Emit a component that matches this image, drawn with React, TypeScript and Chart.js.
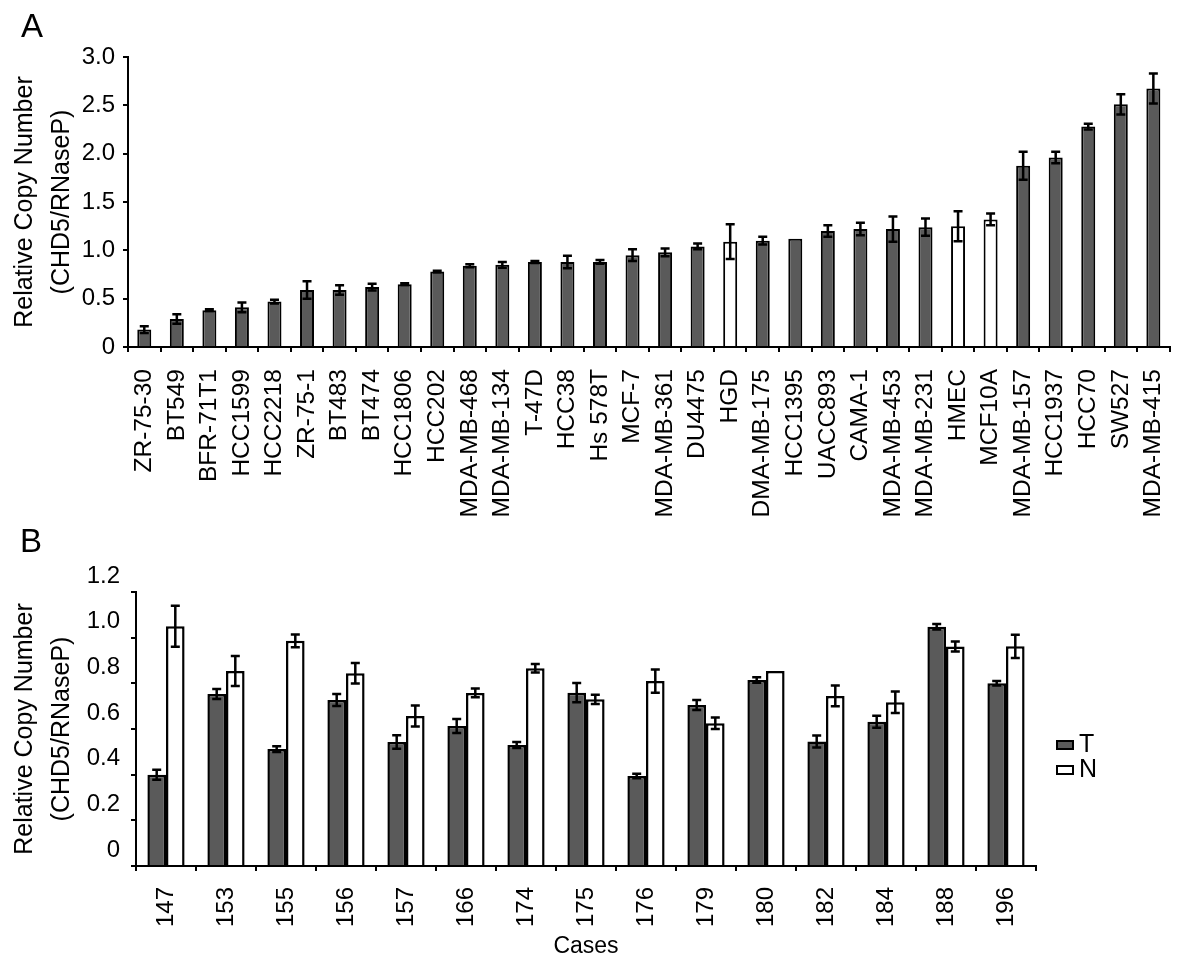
import React, { useEffect, useRef } from "react";
import { Chart, registerables } from "chart.js";

Chart.register(...registerables);

const FONT = "'Liberation Sans', Arial, Helvetica, sans-serif";

// ---- Panel A data ----
const cellLines = [
  "ZR-75-30", "BT549", "BFR-71T1", "HCC1599", "HCC2218", "ZR-75-1", "BT483", "BT474",
  "HCC1806", "HCC202", "MDA-MB-468", "MDA-MB-134", "T-47D", "HCC38", "Hs 578T", "MCF-7",
  "MDA-MB-361", "DU4475", "HGD", "DMA-MB-175", "HCC1395", "UACC893", "CAMA-1", "MDA-MB-453",
  "MDA-MB-231", "HMEC", "MCF10A", "MDA-MB-157", "HCC1937", "HCC70", "SW527", "MDA-MB-415",
];
const cellValues = [
  0.18, 0.29, 0.38, 0.41, 0.47, 0.59, 0.59, 0.62,
  0.65, 0.78, 0.84, 0.85, 0.88, 0.88, 0.88, 0.95,
  0.98, 1.04, 1.09, 1.10, 1.12, 1.20, 1.22, 1.22,
  1.24, 1.25, 1.32, 1.875, 1.96, 2.28, 2.51, 2.675,
];
const cellErrors = [
  0.035, 0.05, 0.01, 0.05, 0.02, 0.09, 0.05, 0.035,
  0.01, 0.01, 0.015, 0.03, 0.01, 0.065, 0.02, 0.06,
  0.04, 0.03, 0.18, 0.04, 0, 0.06, 0.065, 0.13,
  0.09, 0.155, 0.06, 0.145, 0.06, 0.03, 0.105, 0.155,
];
const normalCellLines = ["HGD", "HMEC", "MCF10A"];

// ---- Panel B data ----
const cases = ["147", "153", "155", "156", "157", "166", "174", "175", "176", "179", "180", "182", "184", "188", "196"];
const tumorValues = [0.40, 0.753, 0.512, 0.727, 0.543, 0.613, 0.530, 0.759, 0.394, 0.705, 0.815, 0.545, 0.632, 1.048, 0.80];
const tumorErrors = [0.022, 0.022, 0.013, 0.026, 0.03, 0.031, 0.013, 0.042, 0.01, 0.022, 0.012, 0.026, 0.026, 0.012, 0.01];
const normalValues = [1.05, 0.854, 0.986, 0.844, 0.657, 0.758, 0.866, 0.730, 0.810, 0.625, 0.854, 0.745, 0.717, 0.961, 0.962];
const normalErrors = [0.09, 0.066, 0.028, 0.045, 0.046, 0.019, 0.019, 0.02, 0.051, 0.025, 0, 0.045, 0.047, 0.022, 0.051];

const DARK = "#5a5a5a";
const WHITE = "#ffffff";

const errorBarPlugin = {
  id: "errorBars",
  afterDatasetsDraw(chart: any) {
    const { ctx } = chart;
    const yScale = chart.scales.y;
    ctx.save();
    ctx.strokeStyle = "#000";
    ctx.lineWidth = 2.5;
    chart.data.datasets.forEach((ds: any, di: number) => {
      const meta = chart.getDatasetMeta(di);
      meta.data.forEach((bar: any, j: number) => {
        const v = ds.data[j];
        const e = ds.errors ? ds.errors[j] : 0;
        if (!e) return;
        const x = bar.x;
        const yTop = yScale.getPixelForValue(v + e);
        const yBot = yScale.getPixelForValue(v - e);
        const cap = 4.5;
        ctx.beginPath();
        ctx.moveTo(x, yTop);
        ctx.lineTo(x, yBot);
        ctx.moveTo(x - cap, yTop);
        ctx.lineTo(x + cap, yTop);
        ctx.moveTo(x - cap, yBot);
        ctx.lineTo(x + cap, yBot);
        ctx.stroke();
      });
    });
    ctx.restore();
  },
};

const sideLegendPlugin = {
  id: "sideLegend",
  afterDraw(chart: any) {
    const { ctx, chartArea } = chart;
    const x = chartArea.right + 21;
    let y = chartArea.top + 153;
    ctx.save();
    chart.data.datasets.forEach((ds: any) => {
      ctx.fillStyle = ds.backgroundColor;
      ctx.fillRect(x, y - 4, 16, 8);
      ctx.strokeStyle = "#000";
      ctx.lineWidth = 2;
      ctx.strokeRect(x, y - 4, 16, 8);
      ctx.fillStyle = "#000";
      ctx.font = `25px ${FONT}`;
      ctx.textBaseline = "middle";
      ctx.textAlign = "left";
      ctx.fillText(ds.label, x + 22, y);
      y += 25;
    });
    ctx.restore();
  },
};

const fmt = (v: any) => (Number(v) === 0 ? "0" : Number(v).toFixed(1));

const axisGrid = {
  drawOnChartArea: false,
  drawTicks: true,
  tickLength: 5,
  color: "#000",
  lineWidth: 2,
};
const axisBorder = { color: "#000", width: 2 };
const yTitle = {
  display: true,
  text: ["Relative Copy Number", "(CHD5/RNaseP)"],
  color: "#000",
  font: { size: 25, lineHeight: 1.5, family: FONT },
  padding: { top: 6, bottom: 0 },
};

export default function App() {
  const refA = useRef<HTMLCanvasElement>(null);
  const refB = useRef<HTMLCanvasElement>(null);

  useEffect(() => {
    Chart.defaults.font.family = FONT;
    Chart.defaults.color = "#000";

    const chartA = new Chart(refA.current as HTMLCanvasElement, {
      type: "bar",
      data: {
        labels: cellLines,
        datasets: [
          {
            label: "Relative copy number",
            data: cellValues,
            errors: cellErrors,
            backgroundColor: cellLines.map((n) => (normalCellLines.includes(n) ? WHITE : DARK)),
            borderColor: "#000",
            borderWidth: 2,
            categoryPercentage: 1,
            barPercentage: 0.43,
          } as any,
        ],
      },
      options: {
        responsive: false,
        animation: false,
        devicePixelRatio: 1,
        layout: { padding: { left: 0, right: 16, top: 57, bottom: 0 } },
        plugins: { legend: { display: false }, tooltip: { enabled: false } },
        scales: {
          x: {
            ticks: { color: "#000", font: { size: 24.5 }, minRotation: 90, maxRotation: 90, autoSkip: false, padding: 17 },
            grid: { ...axisGrid, offset: true },
            border: axisBorder,
            afterFit: (s: any) => { s.height = 173; },
          },
          y: {
            min: 0,
            max: 3,
            ticks: { stepSize: 0.5, color: "#000", font: { size: 24 }, padding: 8, callback: fmt },
            grid: axisGrid,
            border: axisBorder,
            title: yTitle,
            afterFit: (s: any) => { s.width = 128; },
          },
        },
      } as any,
      plugins: [errorBarPlugin],
    });

    const chartB = new Chart(refB.current as HTMLCanvasElement, {
      type: "bar",
      data: {
        labels: cases,
        datasets: [
          {
            label: "T",
            data: tumorValues,
            errors: tumorErrors,
            backgroundColor: DARK,
            borderColor: "#000",
            borderWidth: 2.5,
            categoryPercentage: 0.62,
            barPercentage: 1,
          } as any,
          {
            label: "N",
            data: normalValues,
            errors: normalErrors,
            backgroundColor: WHITE,
            borderColor: "#000",
            borderWidth: 2.5,
            categoryPercentage: 0.62,
            barPercentage: 1,
          } as any,
        ],
      },
      options: {
        responsive: false,
        animation: false,
        devicePixelRatio: 1,
        layout: { padding: { left: 0, right: 164, top: 72, bottom: 0 } },
        plugins: { legend: { display: false }, tooltip: { enabled: false } },
        scales: {
          x: {
            ticks: { color: "#000", font: { size: 24 }, minRotation: 90, maxRotation: 90, autoSkip: false, padding: 16 },
            grid: { ...axisGrid, offset: true },
            border: axisBorder,
            title: {
              display: true,
              text: "Cases",
              color: "#000",
              font: { size: 23 },
              padding: { top: 0, bottom: 9 },
            },
            afterFit: (s: any) => { s.height = 103; },
          },
          y: {
            min: 0,
            max: 1.2,
            ticks: { stepSize: 0.2, color: "#000", font: { size: 24 }, padding: 11, labelOffset: -16, callback: fmt },
            grid: axisGrid,
            border: axisBorder,
            title: yTitle,
            afterFit: (s: any) => { s.width = 136; },
          },
        },
      } as any,
      plugins: [errorBarPlugin, sideLegendPlugin],
    });

    return () => {
      chartA.destroy();
      chartB.destroy();
    };
  }, []);

  return (
    <div
      style={{
        position: "absolute",
        left: 0,
        top: 0,
        width: 1200,
        height: 969,
        background: "#fff",
        fontFamily: FONT,
        color: "#000",
      }}
    >
      <canvas ref={refA} width={1200} height={520} style={{ position: "absolute", left: 0, top: 0 }} />
      <canvas ref={refB} width={1200} height={449} style={{ position: "absolute", left: 0, top: 520 }} />
      <div style={{ position: "absolute", left: 21, top: 9, fontSize: 33, lineHeight: "33px" }}>A</div>
      <div style={{ position: "absolute", left: 20, top: 524, fontSize: 33, lineHeight: "33px" }}>B</div>
    </div>
  );
}
